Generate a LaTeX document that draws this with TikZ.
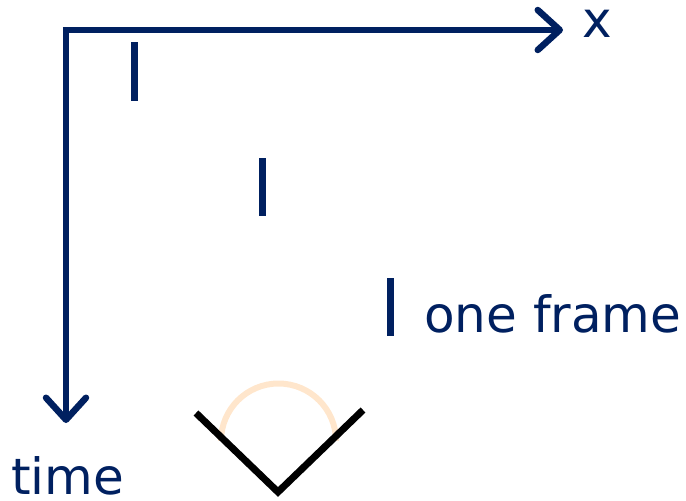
\documentclass[tikz,border=0pt]{standalone}
\usepackage{fontspec}
\setmainfont{DejaVu Sans}
\usetikzlibrary{arrows.meta}
\definecolor{navy}{RGB}{0,32,96}
\definecolor{peach}{RGB}{255,230,204}
\begin{document}
\begin{tikzpicture}[x=1pt,y=-1pt,
  axis/.style={draw=navy,line width=6.5pt,-{Straight Barb[length=22pt,width=40pt,round]}},
  framebar/.style={draw=navy,line width=7pt},
  lbl/.style={text=navy,font=\fontsize{50}{60}\selectfont,inner sep=0pt,anchor=base west},
  vline/.style={draw=black,line width=7pt},
  arcline/.style={draw=peach,line width=6pt}]
\useasboundingbox (0,0) rectangle (686,501);
\coordinate (origin) at (66,30);
\coordinate (xend) at (563,30);
\coordinate (tend) at (66,423);
\draw[axis] (62.75,30) -- (xend);
\draw[axis] (origin) -- (tend);
\node[lbl] (xlab) at (582,37) {x};
\node[lbl] (tlab) at (11,494) {time};
\coordinate (b1a) at (134,42); \coordinate (b1b) at (134,101);
\coordinate (b2a) at (262,158); \coordinate (b2b) at (262,216);
\coordinate (b3a) at (390,278); \coordinate (b3b) at (390,336);
\draw[framebar] (b1a) -- (b1b);
\draw[framebar] (b2a) -- (b2b);
\draw[framebar] (b3a) -- (b3b);
\node[lbl] (frame) at (424,332) {one frame};
\draw[arcline] (221,441) arc[start angle=180,end angle=360,radius=57.5];
\coordinate (vl) at (196,413);
\coordinate (vb) at (278,492);
\coordinate (vr) at (363,410);
\draw[vline] (vl) -- (vb) -- (vr);
\end{tikzpicture}
\end{document}
